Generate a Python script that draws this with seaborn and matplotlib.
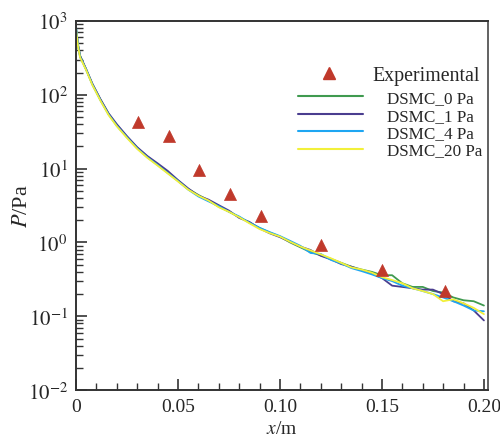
import numpy as np
import pandas as pd
import matplotlib
matplotlib.use("Agg")
import matplotlib.pyplot as plt
import seaborn as sns
from matplotlib.lines import Line2D
from matplotlib.ticker import FixedLocator, LogLocator, NullFormatter

# ---- data ----
x_sim = [0, 0.001, 0.002, 0.005, 0.008, 0.012, 0.016, 0.020, 0.025, 0.030, 0.035,
         0.040, 0.045, 0.050, 0.055, 0.060, 0.065, 0.070, 0.075, 0.080, 0.085,
         0.090, 0.095, 0.100, 0.105, 0.110, 0.115, 0.120, 0.125, 0.130, 0.135,
         0.140, 0.145, 0.150, 0.155, 0.160, 0.165, 0.170, 0.175, 0.180, 0.185,
         0.190, 0.195, 0.200]

p_dsmc0 = [820, 480, 340, 220, 140, 86, 55, 39, 27, 19.2, 14.6,
           11.4, 8.9, 6.9, 5.3, 4.4, 3.7, 3.05, 2.62, 2.2, 1.86,
           1.57, 1.36, 1.2, 1.0, 0.86, 0.74, 0.67, 0.60, 0.53, 0.47,
           0.43, 0.40, 0.36, 0.36, 0.28, 0.25, 0.25, 0.22, 0.21, 0.18,
           0.165, 0.16, 0.14]
p_dsmc1 = [800, 470, 335, 222, 142, 87, 56, 40, 27.5, 19.5, 14.8,
           11.8, 9.3, 7.0, 5.4, 4.3, 3.8, 3.2, 2.7, 2.15, 1.9,
           1.55, 1.33, 1.18, 1.02, 0.88, 0.79, 0.66, 0.59, 0.51, 0.47,
           0.42, 0.38, 0.33, 0.26, 0.25, 0.24, 0.23, 0.23, 0.20, 0.16,
           0.15, 0.12, 0.088]
p_dsmc4 = [830, 460, 325, 218, 138, 84, 54, 38, 26.5, 18.8, 14.2,
           11.2, 8.7, 6.8, 5.2, 4.2, 3.6, 3.1, 2.6, 2.25, 1.85,
           1.58, 1.38, 1.22, 1.05, 0.9, 0.72, 0.70, 0.58, 0.52, 0.45,
           0.41, 0.37, 0.33, 0.30, 0.26, 0.24, 0.22, 0.20, 0.18, 0.16,
           0.14, 0.12, 0.117]
p_dsmc20 = [780, 450, 320, 215, 136, 83, 53, 37.5, 26, 18.5, 14.0,
            11.0, 8.6, 6.7, 5.2, 4.3, 3.7, 3.0, 2.6, 2.2, 1.82,
            1.52, 1.34, 1.2, 1.02, 0.88, 0.78, 0.69, 0.61, 0.53, 0.46,
            0.43, 0.39, 0.34, 0.31, 0.28, 0.24, 0.22, 0.20, 0.16, 0.17,
            0.15, 0.13, 0.107]

x_exp = [0.0302, 0.0455, 0.0604, 0.0757, 0.0906, 0.120, 0.150, 0.181]
p_exp = [43, 28, 9.7, 4.6, 2.3, 0.91, 0.42, 0.22]

series_names = ["DSMC_0 Pa", "DSMC_1 Pa", "DSMC_4 Pa", "DSMC_20 Pa"]
series_vals = [p_dsmc0, p_dsmc1, p_dsmc4, p_dsmc20]
series_colors = ["#3f9a4f", "#4a3d8f", "#1ea6f2", "#f2f03a"]

x_ticks = [0, 0.05, 0.10, 0.15, 0.20]
x_ticklabels = ["0", "0.05", "0.10", "0.15", "0.20"]
y_ticks = [1e-2, 1e-1, 1e0, 1e1, 1e2, 1e3]
y_ticklabels = [r"$10^{-2}$", r"$10^{-1}$", r"$10^{0}$", r"$10^{1}$", r"$10^{2}$", r"$10^{3}$"]

# ---- build frames ----
rows = []
for name, vals in zip(series_names, series_vals):
    for xv, yv in zip(x_sim, vals):
        rows.append({"x": xv, "P": yv, "case": name})
df = pd.DataFrame(rows)
df_exp = pd.DataFrame({"x": x_exp, "P": p_exp})

sns.set_theme(style="white")
plt.rcParams["font.family"] = ["Liberation Serif", "DejaVu Serif"]
plt.rcParams["mathtext.fontset"] = "stix"

fig = plt.figure(figsize=(5.0, 4.39), dpi=100)
ax = fig.add_axes([0.152, 0.109, 0.824, 0.841])

sns.lineplot(data=df, x="x", y="P", hue="case", hue_order=series_names,
             palette=series_colors, linewidth=1.3, ax=ax, legend=False,
             estimator=None, sort=False)
sns.scatterplot(data=df_exp, x="x", y="P", marker="^", s=75, color="#c0392b",
                edgecolor="#c0392b", linewidth=0.5, ax=ax, legend=False, zorder=5)

ax.set_yscale("log")
ax.set_xlim(0, 0.202)
ax.set_ylim(1e-2, 1e3)
ax.set_xticks(x_ticks)
ax.set_xticklabels(x_ticklabels, fontsize=14)
ax.set_yticks(y_ticks)
ax.set_yticklabels(y_ticklabels, fontsize=15)
ax.xaxis.set_minor_locator(FixedLocator(np.arange(0.01, 0.2001, 0.01)))
ax.yaxis.set_minor_locator(LogLocator(base=10, subs=np.arange(2, 10)))
ax.yaxis.set_minor_formatter(NullFormatter())

ax.tick_params(axis="both", which="major", direction="in", length=8, width=1.2,
               color="#333333", top=False, right=False, bottom=True, left=True, pad=6)
ax.tick_params(axis="both", which="minor", direction="in", length=5, width=1.0,
               color="#333333", top=False, right=False, bottom=True, left=True)

for side in ["left", "bottom", "top"]:
    ax.spines[side].set_color("#333333")
    ax.spines[side].set_linewidth(1.4)
ax.spines["right"].set_color("#555555")
ax.spines["right"].set_linewidth(1.3)

ax.set_xlabel(r"$\mathit{x}$/m", fontsize=14, labelpad=3)
ax.set_ylabel(r"$\mathit{P}$/Pa", fontsize=16, labelpad=-3)

# legends
h_exp = [Line2D([0], [0], marker="^", color="none", markerfacecolor="#c0392b",
                markeredgecolor="#c0392b", markersize=9, linestyle="none")]
leg1 = ax.legend(h_exp, ["Experimental"], loc="upper left",
                 bbox_to_anchor=(0.555, 0.905), frameon=False, fontsize=14.3,
                 handletextpad=1.4, borderpad=0, handlelength=1.5)
ax.add_artist(leg1)
h_lines = [Line2D([0], [0], color=c, linewidth=1.5) for c in series_colors]
leg2 = ax.legend(h_lines, series_names, loc="upper left",
                 bbox_to_anchor=(0.519, 0.835), frameon=False, fontsize=12.3,
                 handlelength=3.8, handletextpad=1.4, labelspacing=0.08,
                 borderpad=0)

fig.savefig("out.png", dpi=100)
